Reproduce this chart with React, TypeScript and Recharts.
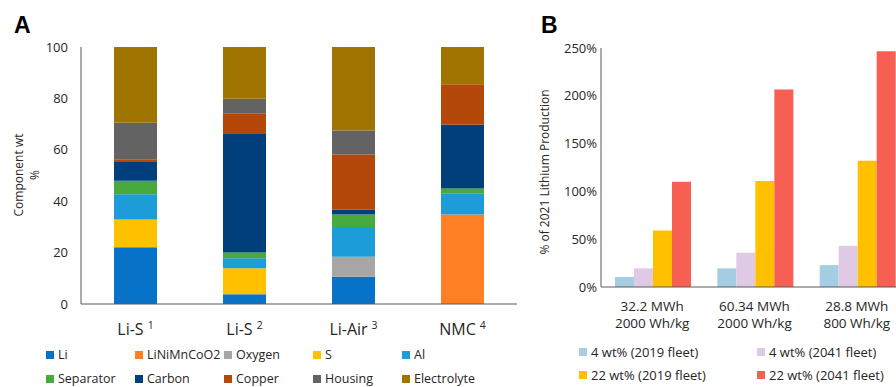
import React from "react";
import { BarChart, Bar, XAxis, YAxis } from "recharts";

// Panel A: component weight fractions (wt %)
const cellNames = ["Li-S", "Li-S", "Li-Air", "NMC"];
const cellRefs = ["1", "2", "3", "4"];
const components = ["Li", "LiNiMnCoO2", "Oxygen", "S", "Al", "Separator", "Carbon", "Copper", "Housing", "Electrolyte"];
const componentColors = ["#0673C9", "#FF7F24", "#A6A6A6", "#FFC000", "#1C9CD8", "#46AB3C", "#003F7B", "#B4470A", "#636363", "#A07400"];
const liValues = [22.1, 3.8, 10.6, 0];
const nmcValues = [0, 0, 0, 34.8];
const oxygenValues = [0, 0, 7.8, 0];
const sulfurValues = [10.8, 10.1, 0, 0];
const alValues = [9.8, 3.9, 11.6, 8.1];
const separatorValues = [5.3, 2.2, 4.8, 2.0];
const carbonValues = [7.3, 46.1, 2.0, 24.8];
const copperValues = [1.0, 8.1, 21.4, 15.8];
const housingValues = [14.2, 5.7, 9.3, 0];
const electrolyteValues = [29.5, 20.1, 32.5, 14.5];
const wtTicks = [0, 20, 40, 60, 80, 100];

// Panel B: share of 2021 lithium production (%)
const scenarios = ["32.2 MWh\n2000 Wh/kg", "60.34 MWh\n2000 Wh/kg", "28.8 MWh\n800 Wh/kg"];
const seriesB = ["4 wt% (2019 fleet)", "4 wt% (2041 fleet)", "22 wt% (2019 fleet)", "22 wt% (2041 fleet)"];
const colorsB = ["#A5CEE2", "#E0C9E4", "#FFC000", "#F65F51"];
const wt4_2019 = [10.4, 19.5, 22.9];
const wt4_2041 = [19.5, 35.8, 43.1];
const wt22_2019 = [59.1, 110.9, 132.1];
const wt22_2041 = [110.2, 206.5, 246.5];
const pctTicks = [0, 50, 100, 150, 200, 250];

const componentSeries = [liValues, nmcValues, oxygenValues, sulfurValues, alValues, separatorValues, carbonValues, copperValues, housingValues, electrolyteValues];
const dataA = cellNames.map((name, i) => {
  const row: Record<string, any> = { name };
  components.forEach((c, k) => (row[c] = componentSeries[k][i]));
  return row;
});

const seriesBValues = [wt4_2019, wt4_2041, wt22_2019, wt22_2041];
const dataB = scenarios.map((name, i) => {
  const row: Record<string, any> = { name };
  seriesB.forEach((s, k) => (row[s] = seriesBValues[k][i]));
  return row;
});

const FONT = "'Open Sans', sans-serif";
const AXIS = "#595959";
const TEXT = "#262626";

const CellTick = ({ x, y, payload, index }: any) => (
  <text x={x} y={y} dy={31} textAnchor="middle" fill={TEXT} fontSize={16} fontFamily={FONT}>
    {payload.value}
    <tspan fontSize={10.5} dx={4} dy={-6}>{cellRefs[index]}</tspan>
  </text>
);

// two-line category label, one <text> per line
const ScenarioTick = ({ x, y, payload }: any) => {
  const lines = String(payload.value).split("\n");
  return (
    <g>
      {lines.map((l, i) => (
        <text key={i} x={x} y={y + 24 + i * 16.5} textAnchor="middle" fill={TEXT} fontSize={13.5} fontFamily={FONT}>{l}</text>
      ))}
    </g>
  );
};

const Swatch = ({ color, label, size = 8 }: { color: string; label: string; size?: number }) => (
  <div style={{ display: "flex", alignItems: "center", whiteSpace: "nowrap" }}>
    <span style={{ width: size, height: size, background: color, marginRight: 4, display: "inline-block" }} />
    <span>{label}</span>
  </div>
);

export default function App() {
  return (
    <div style={{ position: "relative", width: 896, height: 387, overflow: "hidden", background: "#fff", fontFamily: FONT, color: TEXT }}>
      <style>{"body{margin:0}"}</style>

      {/* Panel A */}
      <div style={{ position: "absolute", left: 0, top: 0 }}>
        <BarChart width={530} height={387} data={dataA} margin={{ top: 47, right: 13, left: 31, bottom: 53 }} barCategoryGap={33}>
          <XAxis dataKey="name" height={30} tick={<CellTick />} tickLine={false} tickSize={0} tickMargin={0} stroke={AXIS} interval={0} />
          <XAxis xAxisId="top" orientation="top" dataKey="name" height={0} tick={false} tickLine={false} stroke={AXIS} />
          <YAxis width={50} domain={[0, 100]} ticks={wtTicks} tickLine={false} tickSize={0} tickMargin={13} stroke={AXIS}
            tick={{ fontSize: 13, fill: TEXT, fontFamily: FONT }} />
          <YAxis yAxisId="right" orientation="right" width={0} domain={[0, 100]} tick={false} tickLine={false} stroke={AXIS} />
          {components.map((c, k) => (
            <Bar key={c} dataKey={c} stackId="a" fill={componentColors[k]} isAnimationActive={false} />
          ))}
        </BarChart>
      </div>

      {/* Panel B */}
      <div style={{ position: "absolute", left: 530, top: 0 }}>
        <BarChart width={400} height={387} data={dataB} margin={{ top: 48, right: 22, left: 21, bottom: 60 }} barCategoryGap={14} barGap={0}>
          <XAxis dataKey="name" height={40} tick={<ScenarioTick />} tickLine={false} tickSize={0} tickMargin={0} stroke={AXIS} interval={0} />
          <XAxis xAxisId="top" orientation="top" dataKey="name" height={0} tick={false} tickLine={false} stroke={AXIS} />
          <YAxis width={50} domain={[0, 250]} ticks={pctTicks} tickFormatter={(v) => `${v}%`} tickLine={false} tickSize={0} tickMargin={4}
            stroke={AXIS} tick={{ fontSize: 13, fill: TEXT, fontFamily: FONT }} />
          {seriesB.map((s, k) => (
            <Bar key={s} dataKey={s} fill={colorsB[k]} isAnimationActive={false} />
          ))}
        </BarChart>
      </div>

      {/* titles and axis labels */}
      <svg width={896} height={387} style={{ position: "absolute", left: 0, top: 0, pointerEvents: "none" }}>
        <text x={14} y={33} fontSize={23} fontWeight="bold" fontFamily="Arial, 'Liberation Sans', sans-serif" fill="#000">A</text>
        <text x={541} y={33} fontSize={23} fontWeight="bold" fontFamily="Arial, 'Liberation Sans', sans-serif" fill="#000">B</text>
        <text transform="translate(23,175) rotate(-90)" textAnchor="middle" fontSize={12} fontFamily={FONT} fill={TEXT}>Component wt</text>
        <text transform="translate(39,175) rotate(-90)" textAnchor="middle" fontSize={12} fontFamily={FONT} fill={TEXT}>%</text>
        <text transform="translate(549,172) rotate(-90)" textAnchor="middle" fontSize={12} fontFamily={FONT} fill={TEXT}>% of 2021 Lithium Production</text>
      </svg>

      {/* legend A */}
      <div style={{ position: "absolute", left: 46, top: 346, display: "grid", gridTemplateColumns: "repeat(5, 89px)", rowGap: 6, fontSize: 12.5, lineHeight: "18px" }}>
        {components.map((c, k) => (
          <Swatch key={c} color={componentColors[k]} label={c} />
        ))}
      </div>

      {/* legend B */}
      <div style={{ position: "absolute", left: 579, top: 343, display: "grid", gridTemplateColumns: "178px 178px", rowGap: 5, fontSize: 13, lineHeight: "18px" }}>
        {seriesB.map((s, k) => (
          <Swatch key={s} color={colorsB[k]} label={s} size={8} />
        ))}
      </div>
    </div>
  );
}
